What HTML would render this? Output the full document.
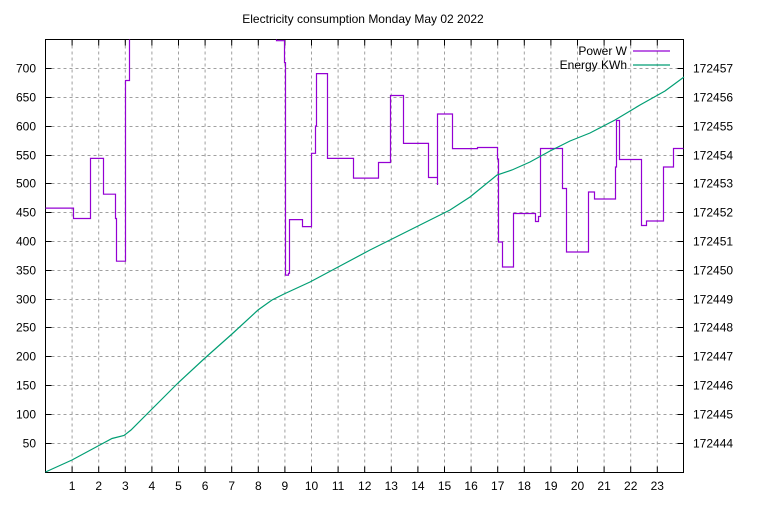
<!DOCTYPE html>
<html><head><meta charset="utf-8"><style>
body{margin:0;background:#fff}
svg text{font-family:"Liberation Sans",sans-serif;font-size:12px;fill:#000}
</style></head><body>
<svg width="768" height="500" viewBox="0 0 768 500" xmlns="http://www.w3.org/2000/svg">
<rect width="768" height="500" fill="#fff"/>
<text x="363" y="23" text-anchor="middle">Electricity consumption Monday May 02 2022</text>
<g stroke="#a0a0a0" stroke-width="1" stroke-dasharray="3,3" fill="none">
<path d="M45.5 443.5H683.5M45.5 414.5H683.5M45.5 385.5H683.5M45.5 356.5H683.5M45.5 327.5H683.5M45.5 299.5H683.5M45.5 270.5H683.5M45.5 241.5H683.5M45.5 212.5H683.5M45.5 183.5H683.5M45.5 155.5H683.5M45.5 126.5H683.5M45.5 97.5H683.5M45.5 68.5H683.5"/>
<path d="M72.1 39.5V472.5M98.7 39.5V472.5M125.3 39.5V472.5M151.9 39.5V472.5M178.5 39.5V472.5M205.1 39.5V472.5M231.7 39.5V472.5M258.3 39.5V472.5M284.9 39.5V472.5M311.5 39.5V472.5M338.1 39.5V472.5M364.7 39.5V472.5M391.3 39.5V472.5M417.9 39.5V472.5M444.5 39.5V472.5M471.1 39.5V472.5M497.7 39.5V472.5M524.3 39.5V472.5M550.9 39.5V472.5M577.5 39.5V472.5M604.1 39.5V472.5M630.7 39.5V472.5M657.3 39.5V472.5"/>
</g>
<g stroke="#000" stroke-width="1" fill="none">
<rect x="45.5" y="39.5" width="638" height="433"/>
<path d="M45.5 443.5h6M45.5 414.5h6M45.5 385.5h6M45.5 356.5h6M45.5 327.5h6M45.5 299.5h6M45.5 270.5h6M45.5 241.5h6M45.5 212.5h6M45.5 183.5h6M45.5 155.5h6M45.5 126.5h6M45.5 97.5h6M45.5 68.5h6"/>
<path d="M683.5 443.5h-6M683.5 414.5h-6M683.5 385.5h-6M683.5 356.5h-6M683.5 327.5h-6M683.5 299.5h-6M683.5 270.5h-6M683.5 241.5h-6M683.5 212.5h-6M683.5 183.5h-6M683.5 155.5h-6M683.5 126.5h-6M683.5 97.5h-6M683.5 68.5h-6"/>
<path d="M72.1 472.5v-6M98.7 472.5v-6M125.3 472.5v-6M151.9 472.5v-6M178.5 472.5v-6M205.1 472.5v-6M231.7 472.5v-6M258.3 472.5v-6M284.9 472.5v-6M311.5 472.5v-6M338.1 472.5v-6M364.7 472.5v-6M391.3 472.5v-6M417.9 472.5v-6M444.5 472.5v-6M471.1 472.5v-6M497.7 472.5v-6M524.3 472.5v-6M550.9 472.5v-6M577.5 472.5v-6M604.1 472.5v-6M630.7 472.5v-6M657.3 472.5v-6"/>
<path d="M72.1 39.5v6M98.7 39.5v6M125.3 39.5v6M151.9 39.5v6M178.5 39.5v6M205.1 39.5v6M231.7 39.5v6M258.3 39.5v6M284.9 39.5v6M311.5 39.5v6M338.1 39.5v6M364.7 39.5v6M391.3 39.5v6M417.9 39.5v6M444.5 39.5v6M471.1 39.5v6M497.7 39.5v6M524.3 39.5v6M550.9 39.5v6M577.5 39.5v6M604.1 39.5v6M630.7 39.5v6M657.3 39.5v6"/>
</g>
<g text-anchor="end">
<text x="36" y="447.5">50</text><text x="36" y="418.5">100</text><text x="36" y="389.5">150</text><text x="36" y="360.5">200</text><text x="36" y="331.5">250</text><text x="36" y="303.5">300</text><text x="36" y="274.5">350</text><text x="36" y="245.5">400</text><text x="36" y="216.5">450</text><text x="36" y="187.5">500</text><text x="36" y="159.5">550</text><text x="36" y="130.5">600</text><text x="36" y="101.5">650</text><text x="36" y="72.5">700</text>
</g>
<g>
<text x="693" y="447.5">172444</text><text x="693" y="418.5">172445</text><text x="693" y="389.5">172446</text><text x="693" y="360.5">172447</text><text x="693" y="331.5">172448</text><text x="693" y="303.5">172449</text><text x="693" y="274.5">172450</text><text x="693" y="245.5">172451</text><text x="693" y="216.5">172452</text><text x="693" y="187.5">172453</text><text x="693" y="159.5">172454</text><text x="693" y="130.5">172455</text><text x="693" y="101.5">172456</text><text x="693" y="72.5">172457</text>
</g>
<g text-anchor="middle">
<text x="72.1" y="490">1</text><text x="98.7" y="490">2</text><text x="125.3" y="490">3</text><text x="151.9" y="490">4</text><text x="178.5" y="490">5</text><text x="205.1" y="490">6</text><text x="231.7" y="490">7</text><text x="258.3" y="490">8</text><text x="284.9" y="490">9</text><text x="311.5" y="490">10</text><text x="338.1" y="490">11</text><text x="364.7" y="490">12</text><text x="391.3" y="490">13</text><text x="417.9" y="490">14</text><text x="444.5" y="490">15</text><text x="471.1" y="490">16</text><text x="497.7" y="490">17</text><text x="524.3" y="490">18</text><text x="550.9" y="490">19</text><text x="577.5" y="490">20</text><text x="604.1" y="490">21</text><text x="630.7" y="490">22</text><text x="657.3" y="490">23</text>
</g>
<path fill="none" stroke="#9400d3" stroke-width="1.2" d="M45.5 208.1H73.5V218.5H90.5V158.4H103.5V194.2H115.5V218.5H116.5V261.2H125.5V80.5H129.5V39.5M276.5 39.5V40.7H284.5V62.6H285.5V275.1H288.5V273.3H289.5V219.6H302.5V226.6H311.5V153.3H315.5V126.1H316.5V73.6H327.5V158.4H353.5V178.1H378.5V162.5H390.5V95.5H403.5V143.4H428.5V177.5H437.5V185V114H452.5V148.6H477.5V147.5H497.5V159H498.5V242H502.5V267H513.5V213.5H535.5V221.5H538.5V216.5H540.5V148.5H562.5V188.5H566.5V252H588.5V192H594.5V199H615.5V167H616.5V120.5H619.5V159.5H641.5V225.5H646.5V221H663.5V167H673.5V148.5H683.5"/>
<polyline fill="none" stroke="#009e73" stroke-width="1.2" points="45.5,472 72,460 98,446 112,438.5 124,435.5 131,430 150,411 178,383 205,358 232,334 258,310 272,300 284,294 310,282 340,266 370,250 392,239 420,225 450,210 470,197 497,175 512,170 530,162 550,151 570,141 590,133 615,120 640,105 665,91 684,77"/>
<text x="627" y="55" text-anchor="end">Power W</text>
<line x1="633" y1="51" x2="670" y2="51" stroke="#9400d3" stroke-width="1.2"/>
<text x="627" y="69" text-anchor="end">Energy KWh</text>
<line x1="633" y1="65" x2="670" y2="65" stroke="#009e73" stroke-width="1.2"/>
</svg>
</body></html>
